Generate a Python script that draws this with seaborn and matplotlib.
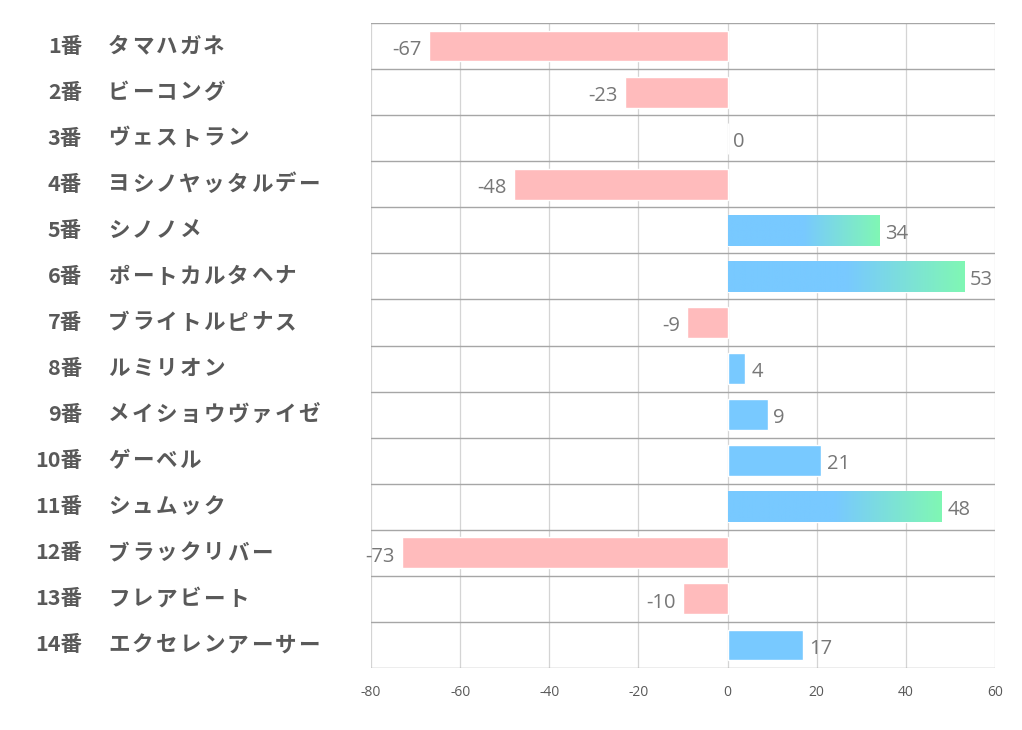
import numpy as np
import pandas as pd
import matplotlib
matplotlib.use('Agg')
import matplotlib.pyplot as plt
import matplotlib.transforms as mtransforms
import seaborn as sns
from matplotlib.colors import LinearSegmentedColormap

# data
numbers = ['1番', '2番', '3番', '4番', '5番', '6番', '7番', '8番', '9番',
           '10番', '11番', '12番', '13番', '14番']
names = ['タマハガネ', 'ビーコング', 'ヴェストラン', 'ヨシノヤッタルデー', 'シノノメ',
         'ポートカルタヘナ', 'ブライトルピナス', 'ルミリオン', 'メイショウヴァイゼ',
         'ゲーベル', 'シュムック', 'ブラックリバー', 'フレアビート', 'エクセレンアーサー']
values = [-67, -23, 0, -48, 34, 53, -9, 4, 9, 21, 48, -73, -10, 17]
x_ticks = [-80, -60, -40, -20, 0, 20, 40, 60]

BLUE = '#78C9FF'
GREEN = '#80F7B4'
PINK = '#FFBBBC'
TEXT = '#595959'
VAL = '#777777'

sns.set_style('white')
plt.rcParams['font.family'] = ['Noto Sans CJK JP', 'DejaVu Sans']

df = pd.DataFrame({'label': [n + ' ' + m for n, m in zip(numbers, names)],
                   'value': values})
colors = [BLUE if v >= 0 else PINK for v in values]

fig = plt.figure(figsize=(10.22, 7.3), dpi=100)
ax = fig.add_axes([371 / 1022, 1 - 668 / 730, 624 / 1022, 645 / 730])

sns.barplot(data=df, y='label', x='value', hue='label', palette=colors,
            legend=False, width=0.67, orient='h', ax=ax, saturation=1)

# gradient fill on the long positive bars (blue for the first half, then to green)
cmap = LinearSegmentedColormap.from_list('bg', [(0, BLUE), (0.5, BLUE), (1, GREEN)])
grad = np.linspace(0, 1, 256).reshape(1, -1)
for patch, v in zip(ax.patches, values):
    if v >= 30:
        x0, y0 = patch.get_x(), patch.get_y()
        w, h = patch.get_width(), patch.get_height()
        im = ax.imshow(grad, cmap=cmap, aspect='auto',
                       extent=[x0, x0 + w, y0 + h, y0], zorder=patch.get_zorder() + 0.1)
        im.set_clip_path(patch)
ax.set_xlim(-80, 60)
ax.set_ylim(len(values) - 0.5, -0.5)

# grid lines
for t in x_ticks:
    ax.axvline(t, color='#D4D4D4', lw=0.9, zorder=0)
for i in range(len(values) + 1):
    ax.axhline(i - 0.5, color='#A6A6A6', lw=1.0, zorder=0.5)

# value labels
for i, v in enumerate(values):
    if v < 0:
        ax.text(v - 1.6, i + 0.08, str(v), ha='right', va='center',
                fontsize=14.5, color=VAL, family=['Open Sans', 'DejaVu Sans'])
    else:
        ax.text(v + 1.3, i + 0.08, str(v), ha='left', va='center',
                fontsize=14.5, color=VAL, family=['Open Sans', 'DejaVu Sans'])

# y labels: number column right-aligned, name column letter-spaced
ax.set_yticks(range(len(values)))
ax.set_yticklabels([])
ax.tick_params(axis='y', length=0)
trans = mtransforms.blended_transform_factory(fig.transFigure, ax.transData)
pitch = 23.8
for i, (n, m) in enumerate(zip(numbers, names)):
    ax.text(82 / 1022, i, n, transform=trans, ha='right', va='center',
            fontsize=15.5, fontweight='bold', color=TEXT, clip_on=False)
    for k, ch in enumerate(m):
        ax.text((108 + k * pitch) / 1022, i, ch, transform=trans, ha='left',
                va='center', fontsize=15.5, fontweight='bold', color=TEXT,
                clip_on=False)

ax.set_xticks(x_ticks)
ax.set_xticklabels([str(t) for t in x_ticks], fontsize=10, color=TEXT,
                   family=['Open Sans', 'DejaVu Sans'])
ax.tick_params(axis='x', length=0, pad=12)
ax.set_xlabel('')
ax.set_ylabel('')
for s in ax.spines.values():
    s.set_visible(False)

fig.savefig('out.png', dpi=100, facecolor='white')
